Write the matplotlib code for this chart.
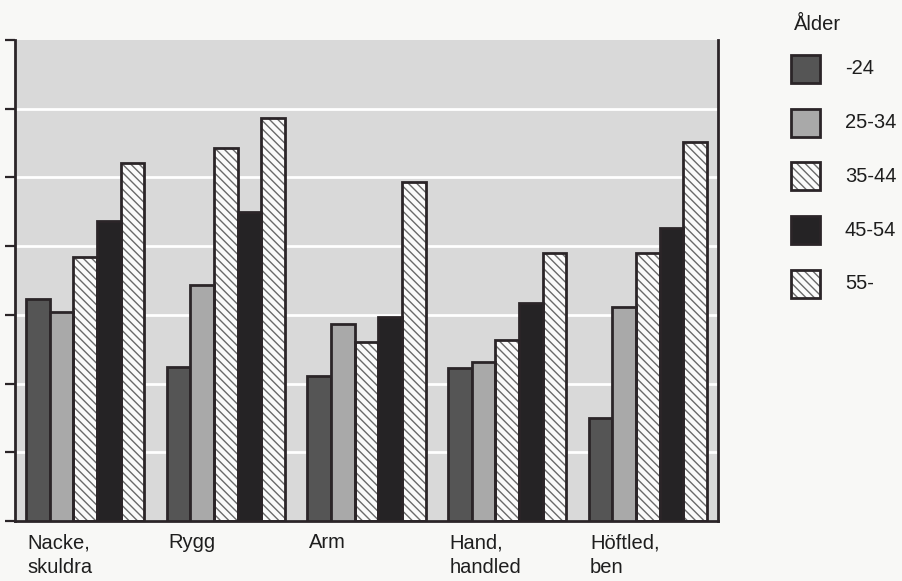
import numpy as np
import matplotlib
matplotlib.use('Agg')
import matplotlib.pyplot as plt
from matplotlib.patches import Rectangle
from matplotlib.transforms import blended_transform_factory

plt.rcParams['font.family'] = ['Liberation Sans', 'DejaVu Sans']

kategorier = ['Nacke,\nskuldra', 'Rygg', 'Arm', 'Hand,\nhandled', 'Höftled,\nben']
aldrar = ['-24', '25-34', '35-44', '45-54', '55-']
v_24 = [3.23, 2.24, 2.11, 2.23, 1.50]
v_25_34 = [3.04, 3.44, 2.87, 2.32, 3.12]
v_35_44 = [3.84, 5.43, 2.61, 2.63, 3.90]
v_45_54 = [4.37, 4.50, 2.97, 3.17, 4.27]
v_55 = [5.21, 5.87, 4.93, 3.90, 5.52]
serier = [v_24, v_25_34, v_35_44, v_45_54, v_55]

farger = ['#555555', '#a9a9a9', '#fbfbfb', '#252325', '#fbfbfb']
hatch = [None, None, '\\\\\\\\', None, '\\\\\\\\']
kant = '#2b2528'

fig = plt.figure(figsize=(9.03, 5.81), dpi=100, facecolor='#f8f8f6')
ax = fig.add_axes([15/903, 1-521/581, (718-15)/903, (521-40)/581])
ax.set_facecolor('#d9d9d9')

x = np.arange(len(kategorier))
bredd = 0.168
for j, vals in enumerate(serier):
    pos = x - 0.42 + bredd*(j+0.5)
    if hatch[j]:
        ax.bar(pos, vals, bredd, color=farger[j], hatch=hatch[j], edgecolor='#6a6a6a', linewidth=0, zorder=2)
        ax.bar(pos, vals, bredd, fill=False, edgecolor=kant, linewidth=2, zorder=3)
    else:
        ax.bar(pos, vals, bredd, color=farger[j], edgecolor=kant, linewidth=2, zorder=3)

ax.set_xlim(-0.5, len(kategorier)-0.5)
ax.set_ylim(0, 7)
ax.set_yticks(range(8))
ax.set_yticklabels([])
ax.set_xticks([])
ax.yaxis.grid(True, color='white', linewidth=2)
ax.get_ygridlines()[-1].set_visible(False)
ax.set_axisbelow(True)
ax.tick_params(axis='y', length=7, width=1.6, color=kant, direction='out')
for s in ['left', 'right', 'bottom']:
    ax.spines[s].set_color(kant)
    ax.spines[s].set_linewidth(2)
ax.spines['top'].set_visible(False)

trans = blended_transform_factory(ax.transData, ax.transAxes)
for i, namn in enumerate(kategorier):
    ax.text(i - 0.41, -0.025, namn, transform=trans, ha='left', va='top',
            fontsize=14.5, color='#1e1e1e', linespacing=1.38)

# legend
fig.text(794/903, 1-25/581, 'Ålder', ha='left', va='center', fontsize=14.5, color='#1e1e1e')
for j, namn in enumerate(aldrar):
    yc = 69 + j*53.7
    if hatch[j]:
        fig.add_artist(Rectangle((791/903, 1-(yc+14)/581), 29/903, 28/581, transform=fig.transFigure,
                                 facecolor=farger[j], hatch=hatch[j], edgecolor='#6a6a6a', linewidth=0))
        fig.add_artist(Rectangle((791/903, 1-(yc+14)/581), 29/903, 28/581, transform=fig.transFigure,
                                 fill=False, edgecolor=kant, linewidth=2))
    else:
        fig.add_artist(Rectangle((791/903, 1-(yc+14)/581), 29/903, 28/581, transform=fig.transFigure,
                                 facecolor=farger[j], edgecolor=kant, linewidth=2))
    fig.text(845/903, 1-yc/581, namn, ha='left', va='center', fontsize=14.5, color='#1e1e1e')

fig.savefig('out.png', dpi=100, facecolor=fig.get_facecolor())
